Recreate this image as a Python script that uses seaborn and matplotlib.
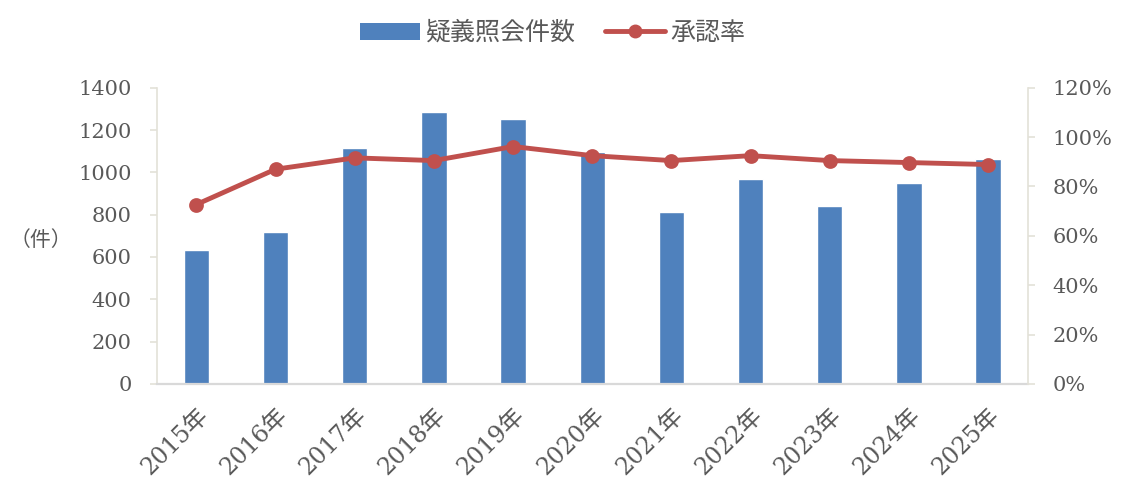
import pandas as pd
import matplotlib.pyplot as plt
import seaborn as sns
from matplotlib.patches import Patch
from matplotlib.lines import Line2D
from matplotlib.ticker import FuncFormatter

# data
years = ["2015年", "2016年", "2017年", "2018年", "2019年", "2020年",
         "2021年", "2022年", "2023年", "2024年", "2025年"]
inquiries = [634, 719, 1116, 1287, 1253, 1097, 814, 970, 842, 951, 1064]
approval_rate = [72.7, 87.0, 91.6, 90.5, 96.2, 92.5, 90.5, 92.5, 90.5, 89.7, 88.9]

df = pd.DataFrame({"year": years, "count": inquiries, "rate": approval_rate})

sns.set_theme(style="white")
plt.rcParams["font.family"] = ["DejaVu Serif", "Noto Sans CJK JP", "DejaVu Sans"]

bar_color = "#4F81BD"
line_color = "#C0504D"
text_color = "#595959"
spine_color = "#E3E1D8"

fig = plt.figure(figsize=(11.28, 4.96), dpi=100)
ax = fig.add_axes([0.139, 0.226, 0.772, 0.597])

sns.barplot(data=df, x="year", y="count", color=bar_color, width=0.32,
            saturation=1, ax=ax)
ax.set_ylim(0, 1400)
ax.set_yticks(range(0, 1401, 200))
ax.set_xlim(-0.5, len(years) - 0.5)

ax2 = ax.twinx()
sns.pointplot(data=df, x="year", y="rate", color=line_color, markers="o",
              linewidth=3.5, markersize=8, ax=ax2)
ax2.set_ylim(0, 120)
ax2.set_yticks(range(0, 121, 20))
ax2.yaxis.set_major_formatter(FuncFormatter(lambda v, p: f"{v:.0f}%"))
ax2.set_xlim(-0.5, len(years) - 0.5)

for a in (ax, ax2):
    a.set_xlabel("")
    a.set_ylabel("")
    for s in a.spines.values():
        s.set_visible(False)
    a.tick_params(axis="y", labelsize=15, labelcolor=text_color, length=5,
                  color=spine_color, width=1.2)
    a.grid(False)

ax.spines["left"].set_visible(True)
ax.spines["left"].set_color(spine_color)
ax.spines["left"].set_linewidth(1.2)
ax.spines["bottom"].set_visible(True)
ax.spines["bottom"].set_color("#D9D9D9")
ax.spines["bottom"].set_linewidth(1.6)
ax2.spines["right"].set_visible(True)
ax2.spines["right"].set_color(spine_color)
ax2.spines["right"].set_linewidth(1.2)
ax.tick_params(axis="y", left=True, pad=13)
ax2.tick_params(axis="y", right=True, pad=13)
ax.tick_params(axis="x", bottom=False, labelsize=17, labelcolor=text_color, pad=8)
plt.setp(ax.get_xticklabels(), rotation=45, ha="right", rotation_mode="anchor")

fig.text(0.008, 0.515, "（件）", fontsize=15, color=text_color, ha="left", va="center")

handles = [
    Patch(facecolor=bar_color, edgecolor="none"),
    Line2D([0], [0], color=line_color, lw=3.5, marker="o", markersize=9),
]
fig.legend(handles, ["疑義照会件数", "承認率"], loc="center", bbox_to_anchor=(0.49, 0.933),
           ncol=2, frameon=False, fontsize=18, labelcolor=text_color,
           handlelength=2.4, handleheight=0.7, columnspacing=1.2, handletextpad=0.2)

fig.savefig("out.png", dpi=100)
